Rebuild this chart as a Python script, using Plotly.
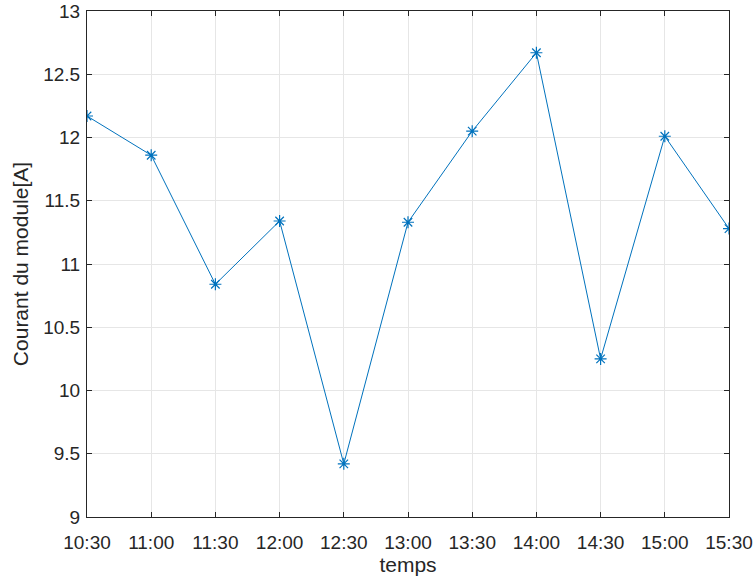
import plotly.graph_objects as go

# Measured module current over the afternoon
temps = ["10:30", "11:00", "11:30", "12:00", "12:30", "13:00",
         "13:30", "14:00", "14:30", "15:00", "15:30"]
courant = [12.17, 11.86, 10.84, 11.34, 9.42, 11.33,
           12.05, 12.67, 10.25, 12.01, 11.28]

y_ticks = [9, 9.5, 10, 10.5, 11, 11.5, 12, 12.5, 13]
y_ticktext = ["9", "9.5", "10", "10.5", "11", "11.5", "12", "12.5", "13"]

line_color = "#0072BD"
axis_color = "#262626"
grid_color = "#e6e6e6"
font_family = "Liberation Sans, Arial, sans-serif"

fig = go.Figure(
    go.Scatter(
        x=temps,
        y=courant,
        mode="lines+markers",
        line=dict(color=line_color, width=1),
        marker=dict(symbol="asterisk-open", size=10,
                    line=dict(color=line_color, width=1.2)),
        showlegend=False,
    )
)

fig.update_xaxes(
    type="category",
    range=[0, len(temps) - 1],
    automargin=False,
    showgrid=True, gridcolor=grid_color, gridwidth=1,
    showline=True, linecolor=axis_color, linewidth=1, mirror="ticks",
    ticks="inside", ticklen=5, tickcolor=axis_color,
    ticklabelstandoff=8,
    tickfont=dict(family=font_family, size=19, color=axis_color),
    title=dict(text="temps", standoff=4,
               font=dict(family=font_family, size=21, color=axis_color)),
    zeroline=False,
)
fig.update_yaxes(
    range=[9, 13],
    automargin=False,
    tickvals=y_ticks, ticktext=y_ticktext,
    showgrid=True, gridcolor=grid_color, gridwidth=1,
    showline=True, linecolor=axis_color, linewidth=1, mirror="ticks",
    ticks="inside", ticklen=5, tickcolor=axis_color,
    ticklabelstandoff=2,
    tickfont=dict(family=font_family, size=19, color=axis_color),
    title=dict(text="Courant du module[A]", standoff=8,
               font=dict(family=font_family, size=21, color=axis_color)),
    zeroline=False,
)

fig.update_layout(
    width=756, height=584,
    margin=dict(l=87, r=27, t=11, b=67),
    paper_bgcolor="white", plot_bgcolor="white",
)

fig.write_html("out.html")
